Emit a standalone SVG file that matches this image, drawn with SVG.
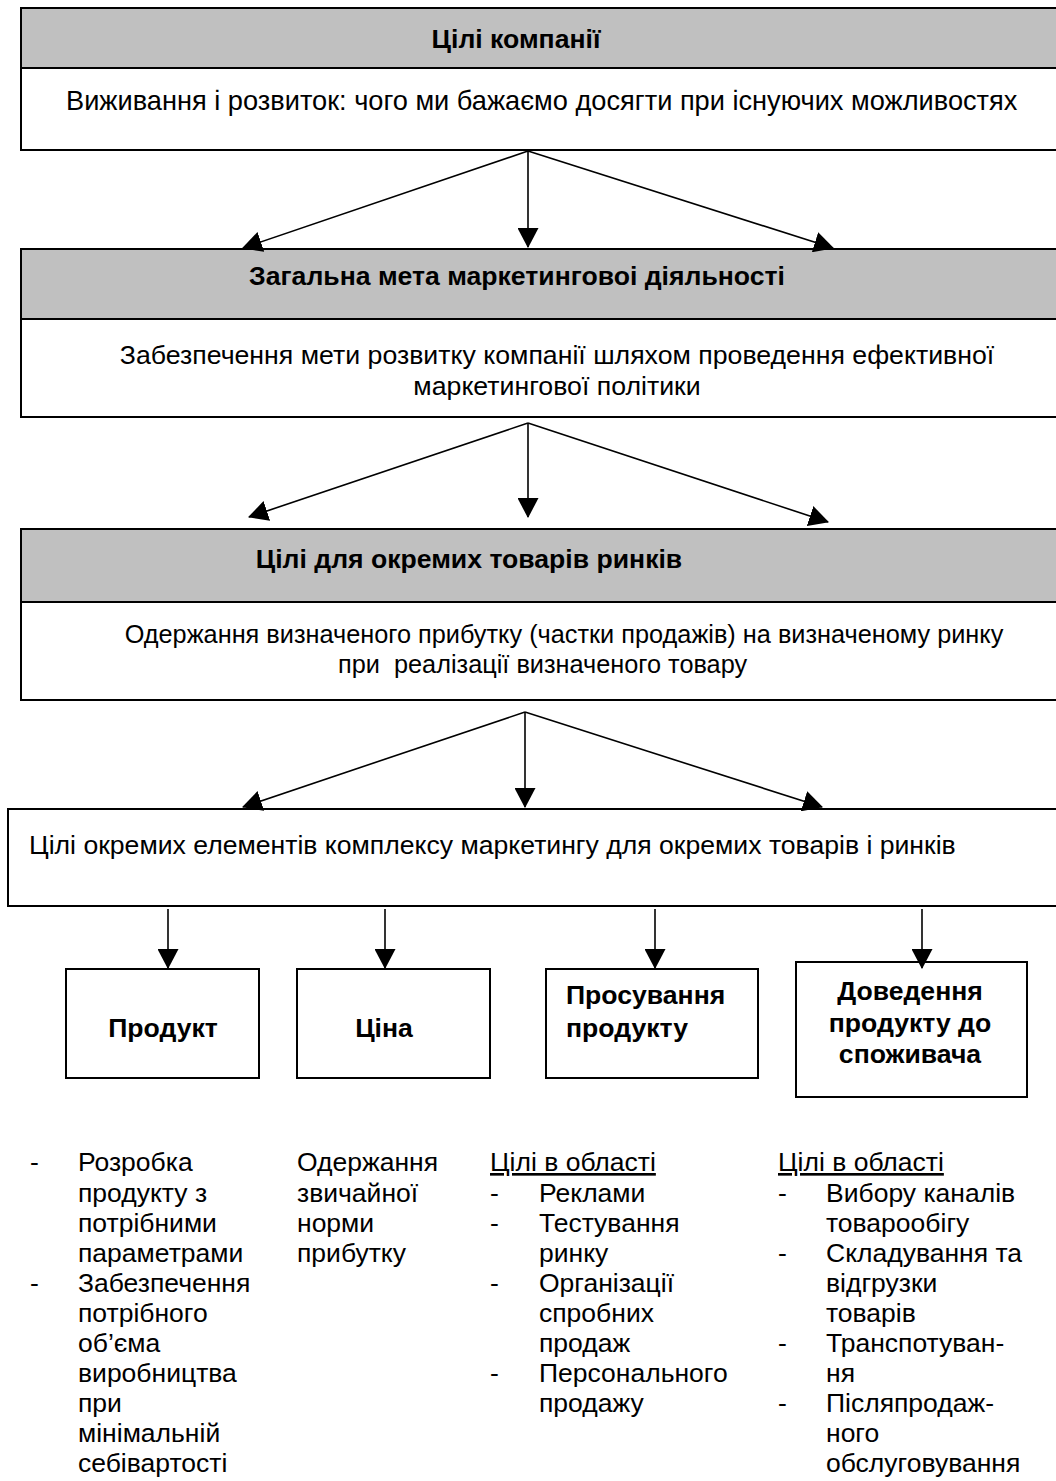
<svg xmlns="http://www.w3.org/2000/svg" width="1056" height="1481" viewBox="0 0 1056 1481">
<style>
.box{fill:#fff;stroke:#000;stroke-width:2}
.hdr{fill:#c0c0c0;stroke:#000;stroke-width:2}
.t{font-family:"Liberation Sans",Arial,sans-serif;font-size:26.5px;fill:#000}
.b{font-weight:bold;font-size:26.6px}
.m{text-anchor:middle}
.c{stroke:#000;stroke-width:1.6;fill:none;marker-end:url(#ah)}
</style>
<defs>
<marker id="ah" markerUnits="userSpaceOnUse" markerWidth="20" markerHeight="21" viewBox="0 0 19 20" refX="18" refY="10" orient="auto">
<path d="M0,0 L19,10 L0,20 Z" fill="#000"/>
</marker>
</defs>
<rect width="1056" height="1481" fill="#fff"/>

<g id="node-company">
<rect class="box" x="21" y="8" width="1045" height="142"/>
<rect class="hdr" x="21" y="8" width="1045" height="60"/>
<text class="t b m" x="516" y="48">Цілі компанії</text>
<text class="t" x="66" y="110" style="font-size:27.2px">Виживання і розвиток: чого ми бажаємо досягти при існуючих можливостях</text>
</g>

<g id="node-marketing">
<rect class="box" x="21" y="249" width="1045" height="168"/>
<rect class="hdr" x="21" y="249" width="1045" height="70"/>
<text class="t b m" x="517" y="285">Загальна мета маркетинговоі діяльності</text>
<text class="t m" x="557" y="364" style="font-size:26.7px">Забезпечення мети розвитку компанії шляхом проведення ефективної</text>
<text class="t m" x="557" y="395" style="font-size:26.7px">маркетингової політики</text>
</g>

<g id="node-markets">
<rect class="box" x="21" y="529" width="1045" height="171"/>
<rect class="hdr" x="21" y="529" width="1045" height="73"/>
<text class="t b m" x="469" y="568">Цілі для окремих товарів ринків</text>
<text class="t m" x="564" y="643" style="font-size:25.3px">Одержання визначеного прибутку (частки продажів) на визначеному ринку</text>
<text class="t" x="338" y="673" style="font-size:25.3px" xml:space="preserve">при  реалізації визначеного товару</text>
</g>

<g id="node-elements">
<rect class="box" x="8" y="809" width="1058" height="97"/>
<text class="t" x="29" y="854" style="font-size:26.6px">Цілі окремих елементів комплексу маркетингу для окремих товарів і ринків</text>
</g>

<g id="node-product">
<rect class="box" x="66" y="969" width="193" height="109"/>
<text class="t b m" x="163" y="1037">Продукт</text>
</g>
<g id="node-price">
<rect class="box" x="297" y="969" width="193" height="109"/>
<text class="t b m" x="384" y="1037">Ціна</text>
</g>
<g id="node-promotion">
<rect class="box" x="546" y="969" width="212" height="109"/>
<text class="t b" x="566" y="1004">Просування</text>
<text class="t b" x="566" y="1037">продукту</text>
</g>
<g id="node-distribution">
<rect class="box" x="796" y="962" width="231" height="135"/>
<text class="t b m" x="910" y="1000">Доведення</text>
<text class="t b m" x="910" y="1032">продукту до</text>
<text class="t b m" x="910" y="1063">споживача</text>
</g>

<g id="connectors">
<line class="c" x1="528" y1="151" x2="243" y2="248"/>
<line class="c" x1="528" y1="151" x2="528" y2="247"/>
<line class="c" x1="528" y1="151" x2="833" y2="248"/>
<line class="c" x1="528" y1="423" x2="249" y2="517"/>
<line class="c" x1="528" y1="423" x2="528" y2="517"/>
<line class="c" x1="528" y1="423" x2="828" y2="522"/>
<line class="c" x1="525" y1="712" x2="243" y2="807"/>
<line class="c" x1="525" y1="712" x2="525" y2="807"/>
<line class="c" x1="525" y1="712" x2="822" y2="807"/>
<line class="c" x1="168" y1="909" x2="168" y2="968"/>
<line class="c" x1="385" y1="909" x2="385" y2="968"/>
<line class="c" x1="655" y1="909" x2="655" y2="968"/>
<line class="c" x1="922" y1="909" x2="922" y2="968"/>
</g>

<g id="col-product">
<text class="t" x="30" y="1171">-</text>
<text class="t" x="78" y="1171">Розробка</text>
<text class="t" x="78" y="1202">продукту з</text>
<text class="t" x="78" y="1232">потрібними</text>
<text class="t" x="78" y="1262">параметрами</text>
<text class="t" x="30" y="1292">-</text>
<text class="t" x="78" y="1292">Забезпечення</text>
<text class="t" x="78" y="1322">потрібного</text>
<text class="t" x="78" y="1352">об’єма</text>
<text class="t" x="78" y="1382">виробництва</text>
<text class="t" x="78" y="1412">при</text>
<text class="t" x="78" y="1442">мінімальній</text>
<text class="t" x="78" y="1472">себівартості</text>
</g>

<g id="col-price">
<text class="t" x="297" y="1171">Одержання</text>
<text class="t" x="297" y="1202">звичайної</text>
<text class="t" x="297" y="1232">норми</text>
<text class="t" x="297" y="1262">прибутку</text>
</g>

<g id="col-promotion">
<text class="t" x="490" y="1171" text-decoration="underline">Цілі в області</text>
<text class="t" x="490" y="1202">-</text>
<text class="t" x="539" y="1202">Реклами</text>
<text class="t" x="490" y="1232">-</text>
<text class="t" x="539" y="1232">Тестування</text>
<text class="t" x="539" y="1262">ринку</text>
<text class="t" x="490" y="1292">-</text>
<text class="t" x="539" y="1292">Організації</text>
<text class="t" x="539" y="1322">спробних</text>
<text class="t" x="539" y="1352">продаж</text>
<text class="t" x="490" y="1382">-</text>
<text class="t" x="539" y="1382">Персонального</text>
<text class="t" x="539" y="1412">продажу</text>
</g>

<g id="col-distribution">
<text class="t" x="778" y="1171" text-decoration="underline">Цілі в області</text>
<text class="t" x="778" y="1202">-</text>
<text class="t" x="826" y="1202">Вибору каналів</text>
<text class="t" x="826" y="1232">товарообігу</text>
<text class="t" x="778" y="1262">-</text>
<text class="t" x="826" y="1262">Складування та</text>
<text class="t" x="826" y="1292">відгрузки</text>
<text class="t" x="826" y="1322">товарів</text>
<text class="t" x="778" y="1352">-</text>
<text class="t" x="826" y="1352">Транспотуван-</text>
<text class="t" x="826" y="1382">ня</text>
<text class="t" x="778" y="1412">-</text>
<text class="t" x="826" y="1412">Післяпродаж-</text>
<text class="t" x="826" y="1442">ного</text>
<text class="t" x="826" y="1472">обслуговування</text>
</g>
</svg>
